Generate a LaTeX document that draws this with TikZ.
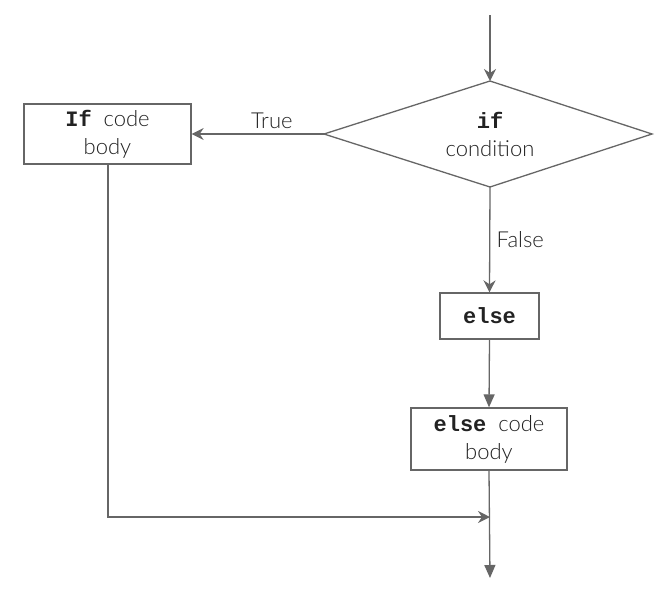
\documentclass[tikz,border=0pt]{standalone}
\usepackage{fontspec}
\setmainfont{Lato Light}
\newfontfamily\codefont{Liberation Mono}
\usetikzlibrary{arrows.meta,shapes.geometric}
\definecolor{linegray}{HTML}{666666}
\definecolor{textgray}{HTML}{222222}
\tikzset{
  flow/.style={draw=linegray, line width=1.3pt},
  openarrow/.style={flow, -{Stealth[length=12pt,width=12pt,inset=4pt]}},
  solidarrow/.style={flow, -{Triangle[length=13pt,width=11pt]}},
  procbox/.style={flow, rectangle, fill=white, text=textgray, align=center, font=\fontsize{22pt}{28pt}\selectfont, inner sep=0pt},
  lbl/.style={text=textgray, font=\fontsize{22pt}{24pt}\selectfont}
}
\newcommand{\kwd}[1]{{\codefont\bfseries #1}}
\begin{document}
\begin{tikzpicture}[x=1pt,y=-1pt]
  \useasboundingbox (0,0) rectangle (672,598);

  % decision diamond
  \draw[flow, fill=white] (490,81) -- (652,134) -- (490,187) -- (324,134) -- cycle;
  \coordinate (dtop) at (490,81);
  \coordinate (dleft) at (324,134);
  \coordinate (dbottom) at (490,187);
  \node[lbl] (iftxt) at (490,120) {\kwd{if}};
  \node[lbl] (condtxt) at (490,149) {condition};

  % boxes
  \node[procbox, minimum width=167pt, minimum height=60pt] (ifbody) at (107.5,134) {\kwd{If}~ code\\body};
  \node[procbox, minimum width=99pt, minimum height=46pt] (elsebox) at (489.5,316) {\kwd{else}};
  \node[procbox, minimum width=156pt, minimum height=62pt] (elsebody) at (489,439) {\kwd{else}~ code\\body};

  % entry and exit
  \coordinate (start) at (490,15);
  \coordinate (merge) at (490,517);
  \coordinate (corner) at (108,517);
  \coordinate (finish) at (490,578);

  \draw[openarrow] (start) -- (dtop);
  \draw[openarrow] (dleft) -- node[lbl, above, yshift=1pt, xshift=14pt] (truelbl) {True} (ifbody.east);
  \draw[openarrow] (dbottom) -- node[lbl, right, xshift=3pt] (falselbl) {False} (elsebox.north);
  \draw[solidarrow] (elsebox.south) -- (elsebody.north);
  \draw[openarrow] (ifbody.south -| corner) -- (corner) -- (merge);
  \draw[solidarrow] (elsebody.south) -- (finish);
\end{tikzpicture}
\end{document}
